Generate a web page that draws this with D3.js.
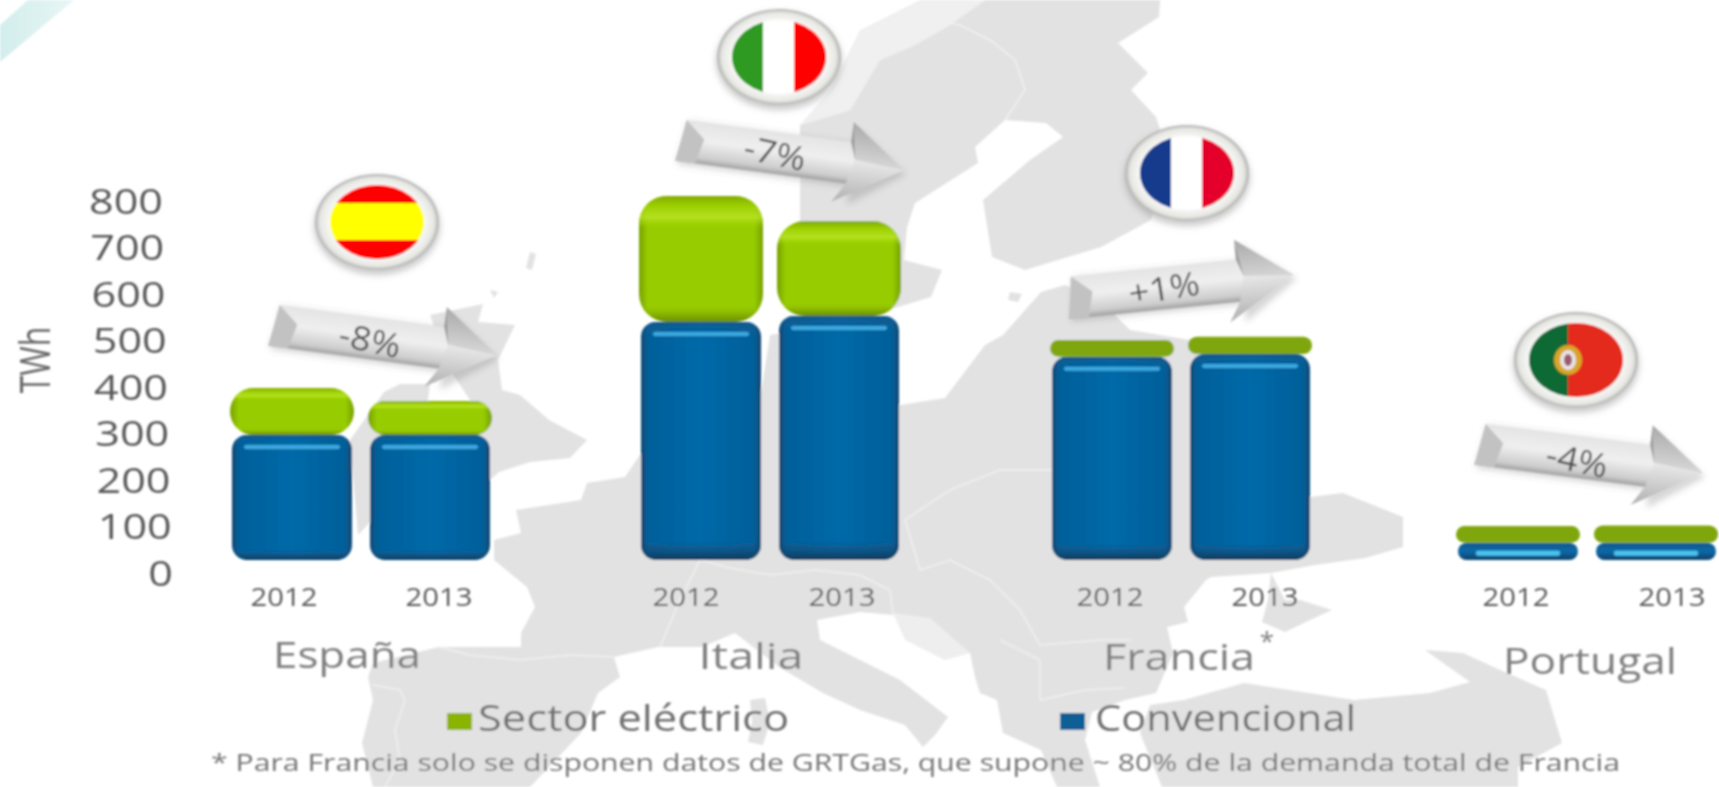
<!DOCTYPE html>
<html>
<head>
<meta charset="utf-8">
<script src="https://cdn.jsdelivr.net/npm/d3@7"></script>
<style>
  html, body { margin: 0; background: #fff; overflow: hidden; }
  text { font-family: "Open Sans", sans-serif; }
</style>
</head>
<body>
<div id="chart"></div>
<script>
const countries = ['España', 'Italia', 'Francia', 'Portugal'];
const years = ['2012', '2013'];
// TWh, two values (2012, 2013) per country
const convencional = [269, 269, 512, 525, 437, 443, 37, 37];
const electrico = [101, 73, 271, 204, 36, 37, 36, 37];
const changes = ['-8%', '-7%', '+1%', '-4%'];
const yTicks = [0, 100, 200, 300, 400, 500, 600, 700, 800];
const legendItems = ['Sector eléctrico', 'Convencional'];
const footnote = '* Para Francia solo se disponen datos de GRTGas, que supone ~ 80% de la demanda total de Francia';

const width = 1719, height = 787;

let svg = d3.select('#chart').append('svg')
  .attr('width', width)
  .attr('height', height)
  .style('display', 'block');

let defs = svg.append('defs');

function gradient(id, vertical, stops){
  let g = defs.append('linearGradient').attr('id', id)
    .attr('x1', 0).attr('y1', 0)
    .attr('x2', vertical ? 0 : 1).attr('y2', vertical ? 1 : 0);
  stops.forEach(s => g.append('stop')
    .attr('offset', s[0]).attr('stop-color', s[1]).attr('stop-opacity', s[2] === undefined ? 1 : s[2]));
}

gradient('blueH', false, [[0, '#0b4671'], [0.06, '#06609a'], [0.5, '#0569a8'], [0.94, '#06609a'], [1, '#0b4671']]);
gradient('blueV', true, [[0, '#0d4f7c', 0.5], [0.05, '#0d4f7c', 0], [0.92, '#0d4f7c', 0], [1, '#0b3a5c', 1]]);
gradient('blueShort', true, [[0, '#0d5a90'], [0.5, '#0a6aa6'], [1, '#0b3f68']]);
gradient('greenH', false, [[0, '#76a000'], [0.07, '#97cc00'], [0.93, '#97cc00'], [1, '#76a000']]);
gradient('greenV', true, [[0, '#7ba300', 0.85], [0.09, '#a3d608', 0.7], [0.17, '#bfe82a', 0.75], [0.26, '#a3d608', 0], [0.88, '#7ea600', 0], [1, '#67880a', 0.95]]);
gradient('arrowBody', true, [[0, '#e4e4e4'], [0.45, '#efefef'], [0.85, '#cdcdcd'], [1, '#a0a0a0']]);
gradient('arrowHeadTop', true, [[0, '#a9a9a9'], [1, '#d6d6d6']]);
gradient('arrowHeadBottom', true, [[0, '#e8e8e8'], [1, '#b0b0b0']]);
gradient('corner', false, [[0, '#d2eeec'], [1, '#e8f6f5']]);

let rim = defs.append('radialGradient').attr('id', 'rim');
rim.append('stop').attr('offset', 0.78).attr('stop-color', '#f6f6f4');
rim.append('stop').attr('offset', 0.92).attr('stop-color', '#e6e6e2');
rim.append('stop').attr('offset', 1).attr('stop-color', '#b0b0b0');

defs.append('filter').attr('id', 'soft')
  .attr('x', '-5%').attr('y', '-5%').attr('width', '110%').attr('height', '110%')
  .append('feGaussianBlur').attr('stdDeviation', 0.8);
defs.append('filter').attr('id', 'shadow')
  .attr('x', '-15%').attr('y', '-15%').attr('width', '130%').attr('height', '140%')
  .append('feGaussianBlur').attr('stdDeviation', 3);

let root = svg.append('g').attr('filter', 'url(#soft)');

// background map of Europe, hand traced, it carries no data
const landShapes = [
  // mainland
  [[625,477],[650,440],[760,400],[770,335],[800,330],[815,400],[900,405],[945,398],[985,345],[1003,335],[1041,292],[1065,285],[1100,300],[1130,330],[1190,340],[1310,497],[1343,493],[1403,517],[1403,547],[1365,558],[1315,565],[1271,573],[1211,577],[1206,580],[1184,607],[1188,622],[1167,627],[1173,653],[1156,693],[1125,700],[1092,712],[1085,740],[1100,787],[1057,787],[1041,750],[1003,733],[997,700],[980,693],[975,677],[970,653],[930,630],[893,615],[860,612],[817,620],[820,640],[860,660],[900,680],[948,717],[935,735],[923,747],[905,725],[860,710],[823,693],[779,667],[735,633],[702,647],[658,647],[614,657],[620,677],[598,693],[581,733],[549,767],[530,787],[373,787],[362,743],[373,700],[368,677],[373,663],[439,647],[521,647],[521,633],[535,607],[527,587],[494,560],[494,540],[521,533],[516,510],[581,500],[587,483]],
  // Scandinavia and Finland
  [[1160,0],[1159,17],[1118,43],[1148,73],[1131,90],[1156,117],[1170,160],[1151,220],[1101,247],[1025,270],[992,257],[983,200],[1030,160],[1063,137],[1046,123],[1005,120],[975,147],[978,163],[915,203],[907,227],[904,260],[942,270],[931,297],[898,307],[860,315],[800,300],[800,125],[850,110],[880,60],[915,45],[950,25],[985,0]],
  // Turkey and Caucasus
  [[1140,733],[1150,705],[1184,700],[1244,683],[1354,700],[1430,693],[1470,682],[1425,650],[1463,653],[1500,670],[1546,690],[1562,743],[1518,767],[1518,787],[1162,787]],
  // Crimea
  [[1271,573],[1285,600],[1300,600],[1332,610],[1310,620],[1285,632],[1262,622],[1268,600]],
  // Britain
  [[430,315],[483,304],[478,322],[515,325],[498,360],[502,390],[520,395],[549,420],[587,440],[570,458],[530,462],[499,472],[490,480],[470,470],[470,400],[450,370]],
  // Ireland
  [[384,392],[400,384],[430,384],[428,400],[440,420],[420,470],[358,535],[350,440]],
  // Sardinia and Corsica
  [[750,700],[765,698],[770,722],[763,745],[748,742],[752,722]],
  // Estonia islands and small northern islands
  [[1010,292],[1022,294],[1018,302],[1008,300]],
  [[530,252],[536,254],[532,270],[526,268]],
  [[490,290],[498,292],[494,298]]
];
// the pale broken Norwegian coast at the top
const paleShapes = [
  [[985,0],[950,25],[915,45],[880,60],[850,110],[800,125],[830,90],[860,30],[900,10],[920,0]]
];
const borderLines = [
  [[373,685],[400,690],[405,700],[395,730],[400,760],[385,787]],
  [[439,647],[470,655],[521,660],[570,655],[614,657]],
  [[660,647],[680,600],[700,560],[730,568],[770,575],[815,570],[860,575],[890,590],[893,615]],
  [[1005,120],[1025,90],[1015,60],[990,40],[960,25],[930,20]],
  [[1131,640],[1100,640],[1040,645],[1020,610],[990,580],[950,560],[920,570],[905,520],[950,490],[1000,470],[1055,470]],
  [[1040,660],[1040,700],[1085,690],[1125,688]],
  [[1000,640],[1040,660]]
];

let mapLine = d3.line().curve(d3.curveLinearClosed);
root.append('g').selectAll('path').data(paleShapes).join('path')
  .attr('d', d => mapLine(d))
  .attr('fill', '#f0f0f0');
root.append('g').selectAll('path').data(landShapes).join('path')
  .attr('d', d => mapLine(d))
  .attr('fill', '#e2e2e2');
root.append('path')
  .attr('d', mapLine([[893,613],[930,618],[970,653],[945,660],[905,640]]))
  .attr('fill', '#eeeeee');
root.append('g').selectAll('path').data(borderLines).join('path')
  .attr('d', d => d3.line()(d))
  .attr('fill', 'none')
  .attr('stroke', '#f0f0f0')
  .attr('stroke-width', 1.5);

// pale streak in the top left corner
root.append('path')
  .attr('d', d3.line()([[0,25],[28,0],[74,0],[0,62]]))
  .attr('fill', 'url(#corner)');

// scales
let y = d3.scaleLinear().domain([0, 800]).range([560, 188]);
let xCountry = d3.scaleOrdinal(countries, [361, 770, 1181, 1587]);
let xYear = d3.scalePoint(years, [-69, 69]);
const barWidth = 120;

let rows = countries.flatMap((c, i) => years.map((yr, j) => ({
  country: c,
  year: yr,
  conv: convencional[i * 2 + j],
  elec: electrico[i * 2 + j]
})));

function barX(d){
  return xCountry(d.country) + xYear(d.year) - barWidth / 2;
}

// stretch a text to the wide look of the reference
function stretch(sel, ratio){
  sel.attr('textLength', function(){ return this.getComputedTextLength() * ratio; })
    .attr('lengthAdjust', 'spacingAndGlyphs');
}

// y axis
let axis = root.append('g')
  .attr('transform', 'translate(173,0)')
  .call(d3.axisLeft(y).tickValues(yTicks).tickSize(0).tickPadding(0));
axis.select('.domain').remove();
axis.selectAll('text')
  .attr('x', d => -10 * d / 800)
  .attr('dy', 25)
  .attr('text-anchor', 'end')
  .style('font-family', '"Open Sans", sans-serif')
  .style('font-size', '34px')
  .attr('fill', '#595959')
  .call(stretch, 1.27);

root.append('text')
  .attr('transform', 'translate(50,360) rotate(-90)')
  .attr('text-anchor', 'middle')
  .attr('font-size', 42)
  .attr('fill', '#666')
  .text('TWh')
  .call(stretch, 0.76);

// bars
let bars = root.append('g').selectAll('g').data(rows).join('g');

function blueRect(sel){
  sel.attr('x', barX)
    .attr('y', d => y(d.conv))
    .attr('width', barWidth)
    .attr('height', d => y(0) - y(d.conv))
    .attr('rx', d => Math.min(15, (y(0) - y(d.conv)) / 2))
    .attr('ry', d => Math.min(15, (y(0) - y(d.conv)) / 2));
}
function greenRect(sel){
  sel.attr('x', d => barX(d) - 2)
    .attr('y', d => y(d.conv + d.elec))
    .attr('width', barWidth + 4)
    .attr('height', d => y(d.conv) - y(d.conv + d.elec))
    .attr('rx', d => Math.min(28, (y(d.conv) - y(d.conv + d.elec)) / 2))
    .attr('ry', d => Math.min(28, (y(d.conv) - y(d.conv + d.elec)) / 2));
}
function shortGreen(d){
  return y(d.conv) - y(d.conv + d.elec) < 25;
}
function shortBlue(d){
  return y(0) - y(d.conv) < 25;
}

bars.append('rect').call(blueRect).attr('fill', d => shortBlue(d) ? 'url(#blueShort)' : 'url(#blueH)');
bars.filter(d => !shortBlue(d)).append('rect').call(blueRect).attr('fill', 'url(#blueV)');
bars.append('rect')
  .attr('x', d => barX(d) + (shortBlue(d) ? 18 : 12))
  .attr('y', d => shortBlue(d) ? y(d.conv) + 8 : y(d.conv) + 10)
  .attr('width', d => barWidth - (shortBlue(d) ? 36 : 24))
  .attr('height', d => shortBlue(d) ? 5 : 4)
  .attr('rx', 2)
  .attr('fill', d => shortBlue(d) ? '#4cc3f0' : '#3ba9e0');

bars.append('rect').call(greenRect).attr('fill', d => shortGreen(d) ? '#7fa708' : 'url(#greenH)');
bars.filter(d => !shortGreen(d)).append('rect').call(greenRect).attr('fill', 'url(#greenV)');

// year labels, placed by eye under each pair of bars
const yearLabelX = [284, 439, 686, 842, 1110, 1265, 1516, 1672];
root.append('g').selectAll('text').data(rows).join('text')
  .attr('x', (d, i) => yearLabelX[i])
  .attr('y', 606)
  .attr('text-anchor', 'middle')
  .attr('font-size', 25)
  .attr('fill', '#595959')
  .text(d => d.year)
  .call(stretch, 1.17);

// country names
const nameX = [347, 751, 1179, 1590];
const nameY = [668, 669, 670, 674];
const nameWidth = [148, 105, 152, 174];
root.append('g').selectAll('text').data(countries).join('text')
  .attr('x', (d, i) => nameX[i])
  .attr('y', (d, i) => nameY[i])
  .attr('text-anchor', 'middle')
  .attr('font-size', 36)
  .attr('fill', '#7f7f7f')
  .attr('lengthAdjust', 'spacingAndGlyphs')
  .attr('textLength', (d, i) => nameWidth[i])
  .text(d => d);
root.append('text')
  .attr('x', 1267).attr('y', 650)
  .attr('text-anchor', 'middle')
  .attr('font-size', 26)
  .attr('fill', '#7f7f7f')
  .text('*');

// change arrows, length 228 along the axis
const arrowPos = [[271, 325, 7.6], [678, 140, 7.6], [1067, 298, -5.8], [1477, 444, 7.3]];
const labelPos = [[370, 340, 12], [775, 153, 12], [1164, 288, -9], [1577, 460, 12]];

let arrows = root.append('g').selectAll('g').data(changes).join('g')
  .attr('transform', (d, i) => 'translate(' + arrowPos[i][0] + ',' + arrowPos[i][1] + ') rotate(' + arrowPos[i][2] + ')');

arrows.append('path')
  .attr('d', d3.line()([[2,24],[176,24],[176,42],[230,4],[176,-36],[176,-20],[8,-20]]))
  .attr('fill', '#888').attr('opacity', 0.35).attr('filter', 'url(#shadow)');
arrows.append('path')
  .attr('d', d3.line()([[6,-21],[178,-21],[178,21],[0,21]]))
  .attr('fill', 'url(#arrowBody)');
arrows.append('path')
  .attr('d', d3.line()([[6,-21],[26,-4],[20,21],[0,21]]))
  .attr('fill', '#c2c2c2');
arrows.append('path')
  .attr('d', d3.line()([[172,-41],[228,0],[178,-4]]))
  .attr('fill', 'url(#arrowHeadTop)');
arrows.append('path')
  .attr('d', d3.line()([[178,-4],[228,0],[160,41],[172,21]]))
  .attr('fill', 'url(#arrowHeadBottom)');
arrows.append('path')
  .attr('d', d3.line()([[172,-41],[178,-4],[172,-21]]))
  .attr('fill', '#9a9a9a');

root.append('g').selectAll('text').data(changes).join('text')
  .attr('transform', (d, i) => 'translate(' + labelPos[i][0] + ',' + labelPos[i][1] + ') rotate(' + labelPos[i][2] + ')')
  .attr('text-anchor', 'middle')
  .attr('dy', 12)
  .attr('font-size', 33)
  .attr('fill', '#4d4d4d')
  .text(d => d)
  .call(stretch, 1.1);

// flag buttons
const flagPos = [[377, 222], [779, 57], [1187, 173], [1576, 360]];
let flags = root.append('g').selectAll('g').data(countries).join('g')
  .attr('transform', (d, i) => 'translate(' + flagPos[i][0] + ',' + flagPos[i][1] + ')');

flags.append('ellipse').attr('cy', 4).attr('rx', 63).attr('ry', 49)
  .attr('fill', '#999').attr('opacity', 0.5).attr('filter', 'url(#shadow)');
flags.append('ellipse').attr('rx', 62).attr('ry', 48).attr('fill', 'url(#rim)');

defs.append('clipPath').attr('id', 'flagClip')
  .append('ellipse').attr('rx', 47).attr('ry', 37);

// stripes of each flag, x y w h in the 94x74 button face
const flagStripes = {
  'España': [[-47,-37,94,18,'#ff0000'],[-47,-19,94,37,'#ffff00'],[-47,18,94,19,'#ff0000']],
  'Italia': [[-47,-37,31,74,'#2f9a22'],[-16,-37,31,74,'#ffffff'],[15,-37,32,74,'#ff0000']],
  'Francia': [[-47,-37,31,74,'#123b8c'],[-16,-37,31,74,'#ffffff'],[15,-37,32,74,'#e4002b']],
  'Portugal': [[-47,-37,39,74,'#0b6b35'],[-8,-37,55,74,'#e3291b']]
};
flags.append('g').attr('clip-path', 'url(#flagClip)')
  .selectAll('rect').data(d => flagStripes[d]).join('rect')
  .attr('x', d => d[0]).attr('y', d => d[1])
  .attr('width', d => d[2]).attr('height', d => d[3])
  .attr('fill', d => d[4]);

let crest = flags.filter(d => d === 'Portugal');
crest.append('ellipse').attr('cx', -8).attr('rx', 14).attr('ry', 15).attr('fill', '#d8a62a');
crest.append('ellipse').attr('cx', -8).attr('rx', 8).attr('ry', 10).attr('fill', '#e8e4ea');
crest.append('ellipse').attr('cx', -8).attr('rx', 4).attr('ry', 6).attr('fill', '#9c5a6a');

// legend
const legendX = [447, 1060];
const legendTextX = [478, 1095];
const legendWidth = [311, 261];
const legendFill = ['#8bb400', '#0a5f96'];
let legend = root.append('g').selectAll('g').data(legendItems).join('g');
legend.append('rect')
  .attr('x', (d, i) => legendX[i]).attr('y', 713)
  .attr('width', 25).attr('height', 17)
  .attr('fill', (d, i) => legendFill[i]);
legend.append('text')
  .attr('x', (d, i) => legendTextX[i]).attr('y', 731)
  .attr('font-size', 36)
  .attr('fill', '#6e6e6e')
  .attr('lengthAdjust', 'spacingAndGlyphs')
  .attr('textLength', (d, i) => legendWidth[i])
  .text(d => d);

root.append('text')
  .attr('x', 211).attr('y', 771)
  .attr('font-size', 24)
  .attr('fill', '#757575')
  .attr('lengthAdjust', 'spacingAndGlyphs')
  .attr('textLength', 1409)
  .text(footnote);
</script>
</body>
</html>
